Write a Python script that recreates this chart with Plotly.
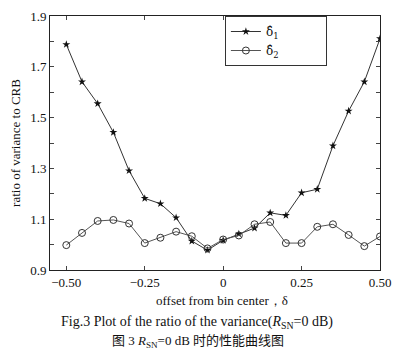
import plotly.graph_objects as go

offsets = [-0.50, -0.45, -0.40, -0.35, -0.30, -0.25, -0.20, -0.15, -0.10, -0.05,
           0.00, 0.05, 0.10, 0.15, 0.20, 0.25, 0.30, 0.35, 0.40, 0.45, 0.50]
delta1 = [1.788, 1.641, 1.555, 1.442, 1.291, 1.182, 1.161, 1.106, 1.014, 0.978,
          1.017, 1.042, 1.065, 1.125, 1.115, 1.204, 1.218, 1.389, 1.526, 1.641, 1.811]
delta2 = [0.998, 1.046, 1.093, 1.097, 1.083, 1.006, 1.027, 1.051, 1.033, 0.985,
          1.020, 1.036, 1.080, 1.089, 1.006, 1.006, 1.070, 1.080, 1.038, 0.994, 1.032]
x_ticks = [-0.50, -0.25, 0, 0.25, 0.50]
x_ticklabels = ["\u22120.50", "\u22120.25", "0", "0.25", "0.50"]
y_ticks = [0.9, 1.1, 1.3, 1.5, 1.7, 1.9]

serif = "Liberation Serif, Times New Roman, serif"
pad = "\u00a0" * 11

fig = go.Figure()
fig.add_trace(go.Scatter(
    x=offsets, y=delta1, mode="lines+markers", name="\u03b4\u0302<sub>1</sub>" + pad,
    line=dict(color="#333", width=1),
    marker=dict(symbol="star", size=6, color="#111"),
))
fig.add_trace(go.Scatter(
    x=offsets, y=delta2, mode="lines+markers", name="\u03b4\u0302<sub>2</sub>" + pad,
    line=dict(color="#555", width=1),
    marker=dict(symbol="circle-open", size=7, color="#333", line=dict(width=1)),
))

fig.update_layout(
    width=400, height=355,
    margin=dict(l=50, r=15, t=9, b=85),
    paper_bgcolor="white", plot_bgcolor="white",
    font=dict(family=serif, size=13, color="#111"),
    showlegend=True,
    legend=dict(x=0.53, y=1.0, xanchor="left", yanchor="top",
                bordercolor="#333", borderwidth=1, bgcolor="white",
                font=dict(family="DejaVu Serif, serif", size=12), itemwidth=30,
                tracegroupgap=0),
    xaxis=dict(range=[-0.552, 0.5], tickvals=x_ticks, ticktext=x_ticklabels,
               ticks="inside", ticklen=4, showgrid=False, zeroline=False,
               showline=True, linecolor="#222", linewidth=1, mirror="ticks",
               tickfont=dict(family=serif, size=13)),
    yaxis=dict(range=[0.9, 1.9], tickvals=y_ticks, ticks="inside", ticklen=4,
               showgrid=False, zeroline=False, showline=True, linecolor="#222",
               linewidth=1, mirror="ticks", tickformat=".1f",
               minor=dict(tickvals=[1.0, 1.2, 1.4, 1.6, 1.8], ticks="inside", ticklen=4),
               title=dict(text="ratio of variance to CRB", font=dict(family=serif, size=13),
                          standoff=6),
               tickfont=dict(family=serif, size=13)),
)

fig.add_annotation(text="offset from bin center\uff0c\u03b4", xref="paper", yref="paper",
                   x=0.522, y=0, yanchor="top", yshift=-21, showarrow=False,
                   font=dict(family=serif, size=13))
fig.add_annotation(text="Fig.3 Plot of the ratio of the variance(<i>R</i><sub>SN</sub>=0 dB)",
                   xref="paper", yref="paper", x=(199 - 50) / 335, y=0, yanchor="top",
                   yshift=-42, showarrow=False, font=dict(family=serif, size=14))
fig.add_annotation(text="\u56fe 3 <i>R</i><sub>SN</sub>=0 dB \u65f6\u7684\u6027\u80fd\u66f2\u7ebf\u56fe",
                   xref="paper", yref="paper", x=(200 - 50) / 335, y=0, yanchor="top",
                   yshift=-61, showarrow=False,
                   font=dict(family="Liberation Serif, Noto Sans CJK SC, serif", size=13))

fig.write_html("out.html")
